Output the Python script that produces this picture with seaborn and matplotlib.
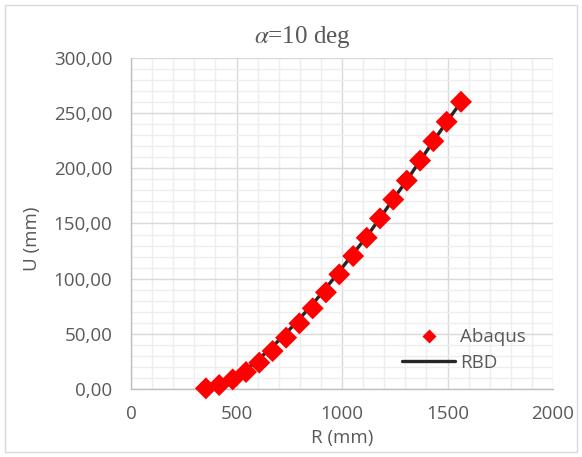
import numpy as np
import pandas as pd
import matplotlib
matplotlib.use("Agg")
import matplotlib.pyplot as plt
import seaborn as sns
from matplotlib.ticker import MultipleLocator, FuncFormatter
from matplotlib.lines import Line2D
from matplotlib.patches import Rectangle

# ---- data ----
abaqus_R = [355, 418, 482, 545, 608, 671, 735, 798, 861, 924,
            987, 1053, 1117, 1180, 1243, 1307, 1370, 1433, 1496, 1564]
abaqus_U = [0.6, 3.6, 8.7, 15.4, 23.9, 34.4, 46.5, 59.5, 73.1, 87.6,
            103.9, 120.5, 137.1, 154.6, 171.7, 188.9, 207.0, 224.6, 242.2, 260.3]
rbd_R = [480, 545, 608, 671, 735, 798, 861, 924, 987, 1050,
         1117, 1180, 1243, 1307, 1370, 1433, 1496, 1560]
rbd_U = [9.5, 17.5, 27.5, 38.5, 50.5, 63.5, 77.0, 91.5, 106.5, 122.0,
         138.0, 155.0, 172.0, 189.0, 207.0, 224.5, 242.0, 259.0]
x_ticks = [0, 500, 1000, 1500, 2000]
y_ticks = [0, 50, 100, 150, 200, 250, 300]
title = r"$\alpha$=10 deg"
x_label = "R (mm)"
y_label = "U (mm)"
series_names = ["Abaqus", "RBD"]

df_a = pd.DataFrame({"R": abaqus_R, "U": abaqus_U})
df_r = pd.DataFrame({"R": rbd_R, "U": rbd_U})

sns.set_style("white")
plt.rcParams["font.family"] = ["Open Sans", "DejaVu Sans"]
plt.rcParams["mathtext.fontset"] = "stix"

W, H = 582, 457
fig = plt.figure(figsize=(W / 100, H / 100), dpi=100)
ax = fig.add_axes([131 / W, 1 - 389 / H, (553 - 131) / W, (389 - 58) / H])

txt = "#595959"
major_c = "#D9D9D9"
minor_c = "#EEEEEE"
fs = 13.5

ax.set_xlim(0, 2000)
ax.set_ylim(0, 300)
ax.xaxis.set_minor_locator(MultipleLocator(100))
ax.yaxis.set_minor_locator(MultipleLocator(10))
ax.set_xticks(x_ticks)
ax.set_yticks(y_ticks)
ax.yaxis.set_major_formatter(FuncFormatter(lambda v, p: f"{v:.2f}".replace(".", ",")))
ax.xaxis.set_major_formatter(FuncFormatter(lambda v, p: f"{int(v)}"))

ax.grid(which="minor", color=minor_c, lw=1.0)
ax.grid(which="major", color=major_c, lw=1.0)
ax.set_axisbelow(True)

for s in ["top", "right"]:
    ax.spines[s].set_visible(False)
for s in ["left", "bottom"]:
    ax.spines[s].set_color("#BFBFBF")
    ax.spines[s].set_linewidth(1.0)

ax.tick_params(axis="both", which="major", direction="out", length=4.5,
               width=1.0, color="#BFBFBF", labelsize=fs, labelcolor=txt)
ax.tick_params(axis="y", which="major", pad=9)
ax.tick_params(axis="x", which="major", pad=7)
ax.tick_params(which="minor", length=0)

sns.lineplot(data=df_r, x="R", y="U", ax=ax, color="#262626", lw=2.4,
             sort=False, zorder=3, legend=False)
sns.scatterplot(data=df_a, x="R", y="U", ax=ax, color="#FF0000", marker="D",
                s=125, edgecolor="none", zorder=4, legend=False, clip_on=False)

ax.set_xlabel("")
ax.set_ylabel("")
fig.text(342 / W, 1 - 438 / H, x_label, fontsize=fs, color=txt, ha="center", va="center")
fig.text(32 / W, 1 - 239 / H, y_label, fontsize=fs, color=txt, ha="center", va="center",
         rotation=90)
fig.text(302.5 / W, 1 - 37 / H, title, fontsize=18, color=txt, ha="center", va="center",
         family=["Liberation Serif"])

handles = [
    Line2D([], [], ls="none", marker="D", color="#FF0000", markersize=7, mec="none"),
    Line2D([], [], color="#262626", lw=2.4),
]
ax.legend(handles, series_names, loc="center left",
          bbox_to_anchor=(402 / W, 1 - 350 / H), bbox_transform=fig.transFigure,
          frameon=False, fontsize=fs, labelcolor=txt, handlelength=2.83,
          handletextpad=0.27, labelspacing=0.4, borderpad=0, borderaxespad=0)

fig.patches.append(Rectangle((5 / W, 5 / H), (W - 10) / W, (H - 10) / H,
                             transform=fig.transFigure, fill=False,
                             ec="#D9D9D9", lw=1.0))

fig.savefig("out.png", dpi=100)
